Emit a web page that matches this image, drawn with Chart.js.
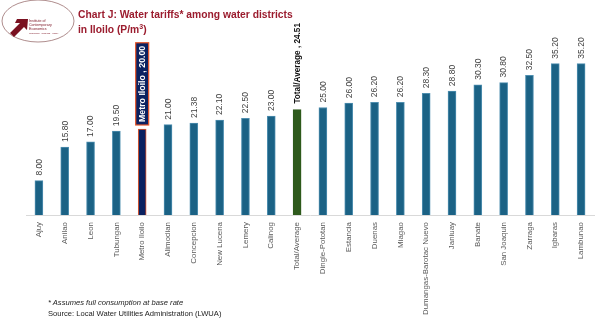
<!DOCTYPE html>
<html><head><meta charset="utf-8">
<script src="https://cdn.jsdelivr.net/npm/chart.js@4.4.1/dist/chart.umd.min.js"></script>
<style>
html,body{margin:0;padding:0;background:#fff;}
#wrap{position:relative;width:601px;height:323px;overflow:hidden;font-family:"Liberation Sans",Arial,sans-serif;}
#c{position:absolute;left:0;top:0;}
#title{position:absolute;left:78px;top:7px;color:#9b1c2e;font-weight:bold;font-size:10.3px;line-height:15px;}
#note{position:absolute;left:48px;top:297px;color:#222;font-size:7.6px;line-height:11px;}
#logo{position:absolute;left:0;top:0;}
</style></head>
<body><div id="wrap">
<canvas id="c" width="601" height="323"></canvas>
<svg id="logo" width="78" height="46">
<ellipse cx="38" cy="21" rx="36" ry="21" fill="none" stroke="#9a7070" stroke-width="0.8"/>
<polygon points="10,33 20,23 15,23 17,19 28,19 27,30 24,27 14,37" fill="#7a1020"/>
<text x="29" y="22" font-size="3.6" fill="#7a1020" font-family="Liberation Sans">Institute of</text>
<text x="29" y="26" font-size="3.6" fill="#7a1020" font-family="Liberation Sans">Contemporary</text>
<text x="29" y="30" font-size="3.6" fill="#7a1020" font-family="Liberation Sans">Economics</text>
<text x="29" y="33.5" font-size="2.4" fill="#7a1020" font-family="Liberation Sans">resources · analysis · policy</text>
</svg>
<div id="title">Chart J: Water tariffs* among water districts<br>in Iloilo (P/m<sup style="font-size:7px;line-height:0">3</sup>)</div>
<div id="note"><i>* Assumes full consumption at base rate</i><br>Source: Local Water Utilities Administration (LWUA)</div>
</div>
<script>
const categories = ["Ajuy","Anilao","Leon","Tubungan","Metro Iloilo","Alimodian","Concepcion","New Lucena","Lemery","Calinog","Total/Average","Dingle-Pototan","Estancia","Duenas","Miagao","Dumangas-Barotac Nuevo","Janiuay","Banate","San Joaquin","Zarraga","Igbaras","Lambunao"];
const tariffs = [8.00,15.80,17.00,19.50,20.00,21.00,21.38,22.10,22.50,23.00,24.51,25.00,26.00,26.20,26.20,28.30,28.80,30.30,30.80,32.50,35.20,35.20];
const valueLabels = ["8.00","15.80","17.00","19.50","20.00","21.00","21.38","22.10","22.50","23.00","24.51","25.00","26.00","26.20","26.20","28.30","28.80","30.30","30.80","32.50","35.20","35.20"];
const highlightName = "Metro Iloilo";
const averageName = "Total/Average";

const fills = categories.map(c => c===highlightName ? "#0b2160" : c===averageName ? "#2e5a1c" : "#1b6285");
const borders = categories.map(c => c===highlightName ? "#e8572a" : c===averageName ? "#2e5a1c" : "#4f8fb0");

const labelPlugin = {
  id:'vlabels',
  afterDatasetsDraw(chart){
    const ctx = chart.ctx;
    const meta = chart.getDatasetMeta(0);
    meta.data.forEach((bar,i)=>{
      const name = categories[i];
      ctx.save();
      ctx.translate(bar.x, bar.y - 5);
      ctx.rotate(-Math.PI/2);
      ctx.textBaseline = 'middle';
      ctx.textAlign = 'left';
      if(name===highlightName){
        const txt = name + " , " + valueLabels[i];
        ctx.font = "bold 8.8px 'Liberation Sans', Arial, sans-serif";
        const w = ctx.measureText(txt).width;
        ctx.fillStyle = "#0b2160";
        ctx.strokeStyle = "#e8572a";
        ctx.lineWidth = 1.2;
        ctx.fillRect(-1, -6.5, w+6, 13);
        ctx.strokeRect(-1, -6.5, w+6, 13);
        ctx.fillStyle = "#ffffff";
        ctx.fillText(txt, 2, 0.5);
      } else if(name===averageName){
        ctx.font = "bold 8.2px 'Liberation Sans', Arial, sans-serif";
        ctx.fillStyle = "#111";
        ctx.fillText(name + " , " + valueLabels[i], 1, 0.5);
      } else {
        ctx.font = "8.5px 'Liberation Sans', Arial, sans-serif";
        ctx.fillStyle = "#404040";
        ctx.fillText(valueLabels[i], 0, 0.5);
      }
      ctx.restore();
    });
  }
};

new Chart(document.getElementById('c'), {
  type:'bar',
  data:{labels:categories, datasets:[{data:tariffs, backgroundColor:fills, borderColor:borders, borderWidth:1, barThickness:8}]},
  options:{
    responsive:false, animation:false,
    layout:{padding:{left:26,right:7,top:43,bottom:0}},
    plugins:{legend:{display:false},tooltip:{enabled:false}},
    scales:{
      y:{display:false,min:0,max:40},
      x:{
        grid:{display:false,drawTicks:false},
        border:{display:true,color:'#d9d9d9',width:1},
        ticks:{maxRotation:90,minRotation:90,padding:7,color:'#595959',font:{family:"'Liberation Sans', Arial, sans-serif",size:7.9},autoSkip:false},
        afterFit(s){ s.height = 108; }
      }
    }
  },
  plugins:[labelPlugin]
});
</script>
</body></html>
